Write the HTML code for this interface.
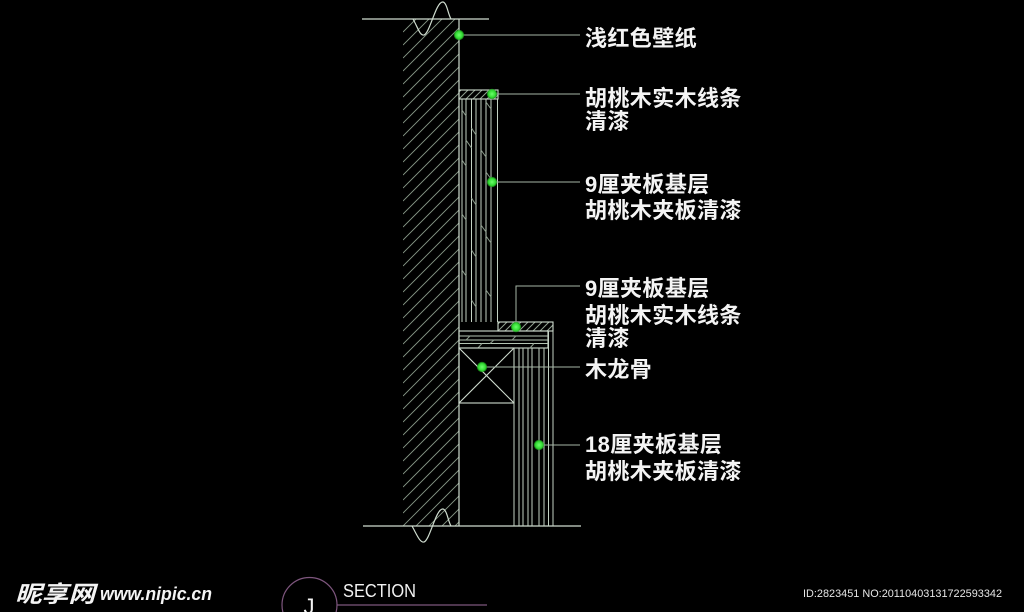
<!DOCTYPE html>
<html>
<head>
<meta charset="utf-8">
<style>
html,body{margin:0;padding:0;background:#000;}
svg{display:block;}
.lbl{font-family:"Liberation Sans","Noto Sans CJK SC",sans-serif;font-weight:bold;font-size:22px;fill:#f4f4f4;letter-spacing:0.4px;}
</style>
</head>
<body>
<svg width="1024" height="612" viewBox="0 0 1024 612" xmlns="http://www.w3.org/2000/svg">
<defs>
  <clipPath id="wallClip"><rect x="403" y="19" width="56" height="507"/></clipPath>
  <clipPath id="cap1"><rect x="459" y="90" width="39" height="9"/></clipPath>
  <clipPath id="cap2"><rect x="498" y="322" width="55" height="9"/></clipPath>
  <radialGradient id="dot" cx="50%" cy="50%" r="50%">
    <stop offset="0%" stop-color="#6bff6b"/>
    <stop offset="70%" stop-color="#2fd82f"/>
    <stop offset="100%" stop-color="#1a9a1a" stop-opacity="0.6"/>
  </radialGradient>
</defs>
<rect width="1024" height="612" fill="#000"/>

<!-- wall hatch -->
<path clip-path="url(#wallClip)" stroke="#869686" stroke-width="0.9" fill="none" d="
M403,19 l56,-56 M403,32 l56,-56 M403,45 l56,-56 M403,58 l56,-56 M403,71 l56,-56
M403,84 l56,-56 M403,97 l56,-56 M403,110 l56,-56 M403,123 l56,-56 M403,136 l56,-56
M403,149 l56,-56 M403,162 l56,-56 M403,175 l56,-56 M403,188 l56,-56 M403,201 l56,-56
M403,214 l56,-56 M403,227 l56,-56 M403,240 l56,-56 M403,253 l56,-56 M403,266 l56,-56
M403,279 l56,-56 M403,292 l56,-56 M403,305 l56,-56 M403,318 l56,-56 M403,331 l56,-56
M403,344 l56,-56 M403,357 l56,-56 M403,370 l56,-56 M403,383 l56,-56 M403,396 l56,-56
M403,409 l56,-56 M403,422 l56,-56 M403,435 l56,-56 M403,448 l56,-56 M403,461 l56,-56
M403,474 l56,-56 M403,487 l56,-56 M403,500 l56,-56 M403,513 l56,-56 M403,526 l56,-56
M403,539 l56,-56 M403,552 l56,-56 M403,565 l56,-56 M403,578 l56,-56 M403,591 l56,-56"/>

<g stroke="#cfdccf" stroke-width="1.2" fill="none">
  <line x1="362" y1="19" x2="489" y2="19"/>
  <line x1="363" y1="526" x2="581" y2="526"/>
  <path d="M413,19 C418,28 420,36 424,35 C430,33 436,1 443,2 C447,3 448,14 451,19"/>
  <path d="M412,526 C417,535 420,543 424,542 C430,540 436,508 443,509 C447,510 448,521 451,526"/>
  <line x1="459" y1="19" x2="459" y2="526"/>
</g>

<!-- 9mm panel top cap -->
<path clip-path="url(#cap1)" stroke="#93a393" stroke-width="1" fill="none" d="M452,99 l9,-9 M459,99 l9,-9 M466,99 l9,-9 M473,99 l9,-9 M480,99 l9,-9 M487,99 l9,-9 M494,99 l9,-9"/>
<rect x="459" y="90" width="39" height="9" fill="none" stroke="#cfdccf" stroke-width="1.1"/>

<!-- 9mm panel -->
<g stroke="#c4d2c4" stroke-width="1">
  <line x1="462" y1="99" x2="462" y2="322"/>
  <line x1="466" y1="99" x2="466" y2="322"/>
  <line x1="471.5" y1="99" x2="471.5" y2="322"/>
  <line x1="476" y1="99" x2="476" y2="322"/>
  <line x1="481" y1="99" x2="481" y2="322"/>
  <line x1="486" y1="99" x2="486" y2="322"/>
  <line x1="491" y1="99" x2="491" y2="322"/>
  <line x1="497.5" y1="99" x2="497.5" y2="322"/>
</g>
<g stroke="#8c9c8c" stroke-width="1">
  <line x1="462" y1="110" x2="466" y2="116"/>
  <line x1="462" y1="160" x2="466" y2="166"/>
  <line x1="462" y1="214" x2="466" y2="220"/>
  <line x1="462" y1="270" x2="466" y2="276"/>
  <line x1="471.5" y1="128" x2="476" y2="135"/>
  <line x1="471.5" y1="198" x2="476" y2="205"/>
  <line x1="471.5" y1="250" x2="476" y2="257"/>
  <line x1="471.5" y1="300" x2="476" y2="307"/>
  <line x1="486" y1="102" x2="491" y2="109"/>
  <line x1="486" y1="172" x2="491" y2="179"/>
  <line x1="486" y1="236" x2="491" y2="243"/>
  <line x1="486" y1="290" x2="491" y2="297"/>
  <line x1="466" y1="140" x2="471.5" y2="148"/>
  <line x1="481" y1="150" x2="486" y2="157"/>
  <line x1="481" y1="225" x2="486" y2="232"/>
</g>

<!-- ledge cap -->
<path clip-path="url(#cap2)" stroke="#93a393" stroke-width="1" fill="none" d="M491,331 l9,-9 M498,331 l9,-9 M505,331 l9,-9 M512,331 l9,-9 M519,331 l9,-9 M526,331 l9,-9 M533,331 l9,-9 M540,331 l9,-9 M547,331 l9,-9"/>
<rect x="498" y="322" width="55" height="9" fill="none" stroke="#cfdccf" stroke-width="1.1"/>

<!-- horizontal band -->
<rect x="459" y="331" width="89" height="17" fill="none" stroke="#cfdccf" stroke-width="1.1"/>
<g stroke="#b4c4b4" stroke-width="1">
  <line x1="459" y1="336" x2="548" y2="336"/>
  <line x1="459" y1="340" x2="548" y2="340"/>
  <line x1="459" y1="343.5" x2="548" y2="343.5"/>
</g>
<g stroke="#8c9c8c" stroke-width="1">
  <line x1="466" y1="340" x2="470" y2="336"/>
  <line x1="490" y1="343.5" x2="494" y2="340"/>
  <line x1="512" y1="340" x2="516" y2="336"/>
  <line x1="530" y1="348" x2="534" y2="343.5"/>
  <line x1="478" y1="348" x2="482" y2="343.5"/>
</g>

<!-- keel box -->
<g stroke="#cfdccf" stroke-width="1.1" fill="none">
  <rect x="459" y="348" width="55" height="55"/>
  <line x1="459" y1="348" x2="514" y2="403"/>
  <line x1="514" y1="348" x2="459" y2="403"/>
</g>

<!-- 18mm panel -->
<g stroke="#c4d2c4" stroke-width="1">
  <line x1="514" y1="348" x2="514" y2="526"/>
  <line x1="519" y1="348" x2="519" y2="526"/>
  <line x1="523" y1="348" x2="523" y2="526"/>
  <line x1="528" y1="348" x2="528" y2="526"/>
  <line x1="532" y1="348" x2="532" y2="526"/>
  <line x1="539" y1="348" x2="539" y2="526"/>
  <line x1="544" y1="348" x2="544" y2="526"/>
  <line x1="548.5" y1="331" x2="548.5" y2="526"/>
  <line x1="553" y1="331" x2="553" y2="526"/>
</g>

<!-- leaders -->
<g stroke="#a6b6a6" stroke-width="1" fill="none">
  <line x1="459" y1="35" x2="580" y2="35"/>
  <line x1="492" y1="94" x2="580" y2="94"/>
  <line x1="492" y1="182" x2="580" y2="182"/>
  <polyline points="516,327 516,286 580,286"/>
  <line x1="482" y1="367" x2="580" y2="367"/>
  <line x1="539" y1="445" x2="580" y2="445"/>
</g>

<!-- dots -->
<g fill="url(#dot)">
  <circle cx="459" cy="35" r="5.2"/>
  <circle cx="492" cy="94" r="5.2"/>
  <circle cx="492" cy="182" r="5.2"/>
  <circle cx="516" cy="327" r="5.2"/>
  <circle cx="482" cy="367" r="5.2"/>
  <circle cx="539" cy="445" r="5.2"/>
</g>

<!-- labels -->
<text class="lbl" x="585" y="46">浅红色壁纸</text>
<text class="lbl" x="585" y="106">胡桃木实木线条</text>
<text class="lbl" x="585" y="129">清漆</text>
<text class="lbl" x="585" y="192">9厘夹板基层</text>
<text class="lbl" x="585" y="218">胡桃木夹板清漆</text>
<text class="lbl" x="585" y="296">9厘夹板基层</text>
<text class="lbl" x="585" y="323">胡桃木实木线条</text>
<text class="lbl" x="585" y="346">清漆</text>
<text class="lbl" x="585" y="377">木龙骨</text>
<text class="lbl" x="585" y="452">18厘夹板基层</text>
<text class="lbl" x="585" y="479">胡桃木夹板清漆</text>

<!-- section mark -->
<circle cx="309.5" cy="605" r="27.5" fill="none" stroke="#7e567e" stroke-width="1.2"/>
<line x1="337" y1="605" x2="487" y2="605" stroke="#7e567e" stroke-width="1.2"/>
<text x="309" y="614" text-anchor="middle" font-family="Liberation Sans, sans-serif" font-size="22" fill="#f2f2f2">J</text>
<text x="343" y="597" font-family="Liberation Sans, sans-serif" font-size="18" fill="#f2f2f2" textLength="73" lengthAdjust="spacingAndGlyphs">SECTION</text>

<!-- watermark -->
<text x="15" y="602" font-family="Liberation Sans, 'Noto Sans CJK SC', sans-serif" font-weight="bold" font-style="italic" font-size="23" fill="#f4f4f4" textLength="80" lengthAdjust="spacingAndGlyphs">昵享网</text>
<text x="100" y="600" font-family="Liberation Sans, sans-serif" font-weight="bold" font-style="italic" font-size="18" fill="#f4f4f4" textLength="112" lengthAdjust="spacingAndGlyphs">www.nipic.cn</text>

<!-- id -->
<text x="803" y="597" font-family="Liberation Sans, sans-serif" font-size="11" fill="#e6e6e6" textLength="199" lengthAdjust="spacingAndGlyphs">ID:2823451 NO:20110403131722593342</text>
</svg>
</body>
</html>
